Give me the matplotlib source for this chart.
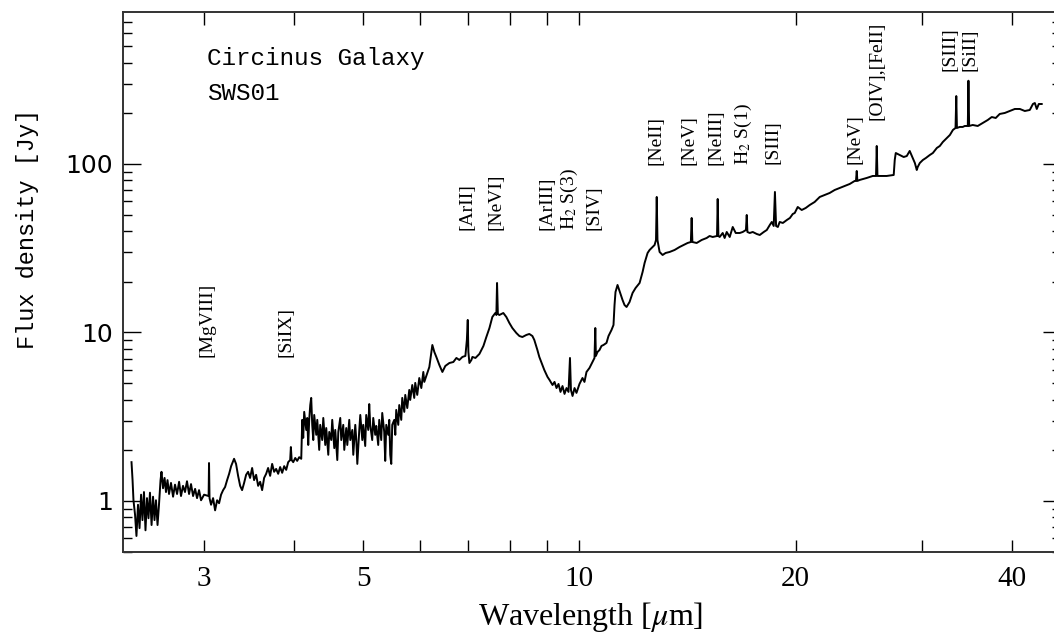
import numpy as np
import matplotlib
matplotlib.use("Agg")
import matplotlib.pyplot as plt
from matplotlib.ticker import LogLocator, NullFormatter, NullLocator

plt.rcParams["mathtext.fontset"] = "stix"

# ISO-SWS spectrum (wavelength in micron, flux in Jy)
wave_1 = [2.379, 2.387, 2.394, 2.406, 2.417, 2.429, 2.441, 2.453, 2.464, 2.476,
          2.488, 2.500, 2.512, 2.524, 2.537, 2.549, 2.561, 2.573, 2.586, 2.598,
          2.611, 2.619, 2.632, 2.645, 2.657, 2.670, 2.683, 2.700, 2.718, 2.735,
          2.753, 2.771, 2.788, 2.806, 2.824, 2.842, 2.861, 2.879, 2.898, 2.917,
          2.935, 2.954, 2.973, 3.002]
flux_1 = [1.70, 1.33, 1.01, 0.83, 0.62, 0.95, 0.69, 1.09, 0.77, 1.13,
          0.67, 1.04, 0.79, 1.12, 0.72, 1.06, 0.77, 1.01, 0.72, 0.95,
          1.33, 1.49, 1.19, 1.37, 1.13, 1.33, 1.10, 1.28, 1.06, 1.25,
          1.10, 1.30, 1.07, 1.23, 1.13, 1.31, 1.10, 1.26, 1.07, 1.18,
          1.04, 1.16, 1.01, 1.09]

wave_2 = [3.046, 3.050, 3.055, 3.070, 3.090, 3.110, 3.130, 3.150, 3.170, 3.191,
          3.211, 3.232, 3.253, 3.274, 3.305, 3.326, 3.348, 3.370, 3.391, 3.413,
          3.435, 3.457, 3.479, 3.502, 3.524, 3.547, 3.570, 3.593, 3.616, 3.639,
          3.663, 3.686, 3.710, 3.734, 3.758, 3.782, 3.807, 3.831, 3.856, 3.881,
          3.906, 3.931, 3.956, 3.965, 3.975, 3.995, 4.021, 4.046, 4.072, 4.099]
flux_2 = [1.07, 1.68, 1.04, 0.95, 1.04, 0.88, 1.01, 0.97, 1.09, 1.16,
          1.21, 1.33, 1.45, 1.61, 1.78, 1.66, 1.41, 1.23, 1.16, 1.28,
          1.43, 1.49, 1.37, 1.57, 1.33, 1.43, 1.23, 1.30, 1.16, 1.37,
          1.45, 1.57, 1.41, 1.66, 1.49, 1.55, 1.45, 1.59, 1.47, 1.61,
          1.53, 1.70, 1.75, 2.09, 1.75, 1.70, 1.80, 1.73, 1.82, 1.78]

wave_3 = [4.112, 4.125, 4.138, 4.165, 4.178, 4.192, 4.205, 4.219, 4.232, 4.246,
          4.260, 4.273, 4.301, 4.315, 4.342, 4.356, 4.384, 4.399, 4.427, 4.441,
          4.470, 4.484, 4.513, 4.527, 4.557, 4.571, 4.601, 4.616, 4.645, 4.660,
          4.690, 4.705, 4.735, 4.751, 4.781, 4.797, 4.828, 4.843, 4.874, 4.890,
          4.906, 4.937, 4.953, 4.985, 5.000, 5.032, 5.048, 5.081, 5.097, 5.113,
          5.146, 5.163, 5.196, 5.213, 5.246, 5.263, 5.297, 5.314, 5.348, 5.365,
          5.383, 5.417, 5.435, 5.452, 5.470, 5.487, 5.523, 5.541, 5.558, 5.594,
          5.612, 5.648, 5.666, 5.703, 5.721, 5.758, 5.795, 5.813, 5.851, 5.888,
          5.907, 5.945, 5.984, 6.023, 6.062, 6.081, 6.121, 6.180]
flux_3 = [3.03, 2.37, 3.38, 2.64, 3.11, 2.15, 3.03, 3.71, 4.09, 2.83,
          2.30, 3.24, 2.47, 3.03, 2.01, 2.83, 2.30, 3.11, 2.15, 2.71,
          1.88, 2.57, 2.30, 3.03, 2.06, 2.64, 1.75, 2.57, 3.11, 2.30,
          2.83, 2.01, 2.71, 2.15, 3.03, 2.30, 2.64, 1.88, 2.83, 2.30,
          1.66, 2.64, 3.24, 2.30, 2.83, 2.12, 3.24, 2.64, 3.76, 2.83,
          2.30, 3.11, 2.47, 2.79, 2.15, 3.03, 2.30, 3.33, 2.57, 1.73,
          2.83, 2.47, 3.03, 1.88, 1.66, 2.83, 3.03, 2.47, 3.47, 2.83,
          3.71, 3.03, 4.09, 3.38, 4.26, 3.56, 4.56, 3.98, 4.88, 4.09,
          5.02, 4.26, 5.37, 4.68, 5.83, 5.09, 5.52, 6.24]

wave_4 = [6.220, 6.240, 6.280, 6.320, 6.382, 6.444, 6.505, 6.590, 6.674, 6.740,
          6.804, 6.871, 6.937, 6.970, 6.990, 7.004, 7.027, 7.072, 7.095, 7.164,
          7.256, 7.350, 7.419, 7.493, 7.563, 7.636, 7.661, 7.678, 7.698, 7.735,
          7.834, 7.910, 7.987, 8.064, 8.168, 8.248, 8.327, 8.435, 8.515, 8.599,
          8.652, 8.738, 8.792, 8.879, 8.934, 9.026, 9.084, 9.172, 9.231, 9.290,
          9.350, 9.410, 9.470, 9.532, 9.593, 9.654, 9.700, 9.730, 9.780, 9.843,
          9.904]
flux_4 = [7.66, 8.43, 7.66, 7.16, 6.41, 5.83, 6.33, 6.59, 6.68, 7.06,
          6.87, 7.16, 7.26, 9.03, 11.87, 7.66, 6.59, 6.87, 7.16, 7.06,
          7.46, 8.32, 9.40, 10.63, 12.36, 13.05, 12.70, 19.67, 12.88, 12.70,
          13.05, 12.36, 11.39, 10.63, 9.93, 9.53, 9.40, 9.67, 9.80, 9.53,
          9.03, 7.87, 7.16, 6.41, 5.99, 5.45, 5.23, 4.88, 5.09, 4.68,
          4.95, 4.44, 4.81, 4.32, 4.68, 4.44, 7.06, 4.56, 4.20, 4.68,
          4.38]

wave_5 = [10.00, 10.097, 10.161, 10.227, 10.326, 10.426, 10.493, 10.52, 10.54, 10.594,
          10.663, 10.731, 10.800, 10.904, 10.975, 11.081, 11.152, 11.189, 11.224, 11.297,
          11.370, 11.480, 11.553, 11.629, 11.741, 11.855, 11.970, 12.125, 12.242, 12.321,
          12.440, 12.520, 12.601, 12.722, 12.78, 12.81, 12.84, 12.928, 13.053, 13.179,
          13.349, 13.564, 13.784, 13.962, 14.143, 14.29, 14.327, 14.36, 14.559, 14.794,
          15.034, 15.176, 15.326, 15.54, 15.574, 15.61, 15.674, 15.826, 15.925, 16.031,
          16.186, 16.343, 16.501, 16.714, 16.876, 17.05, 17.094, 17.13, 17.259, 17.427,
          17.652, 17.822, 18.053, 18.228, 18.405, 18.523, 18.636, 18.71, 18.78, 18.886,
          18.998, 19.191, 19.44, 19.631, 19.81, 19.936]
flux_5 = [4.95, 5.37, 5.09, 5.83, 6.16, 6.68, 7.06, 10.63, 7.26, 7.66,
          7.87, 8.32, 8.43, 8.67, 9.53, 10.35, 11.08, 14.56, 17.39, 19.14,
          17.63, 15.59, 14.56, 14.17, 15.17, 17.16, 18.37, 19.67, 22.86, 25.85,
          29.64, 30.88, 31.73, 33.06, 35.40, 63.72, 35.40, 30.05, 28.84, 29.64,
          30.05, 30.88, 32.17, 33.06, 33.98, 34.44, 47.82, 34.44, 33.98, 35.40,
          36.38, 37.38, 36.88, 37.38, 61.99, 37.38, 36.88, 38.95, 36.38, 39.49,
          36.88, 42.28, 38.95, 38.95, 39.49, 40.58, 49.82, 39.49, 38.95, 39.49,
          38.42, 37.90, 39.49, 40.58, 43.45, 45.28, 42.86, 68.23, 42.86, 42.28,
          45.28, 44.66, 46.53, 47.82, 50.5, 51.2]

wave_6 = [20.129, 20.388, 20.65, 20.92, 21.25, 21.60, 21.94, 22.30, 22.66, 23.03,
          23.40, 23.78, 24.16, 24.26, 24.32, 24.37, 24.55, 25.11, 25.60, 25.87,
          25.93, 25.99, 26.18, 26.77, 27.38, 27.47, 27.56, 27.91, 28.27, 28.55,
          28.82, 29.10, 29.30, 29.48, 29.57, 29.77, 30.06, 30.35, 30.74, 31.04,
          31.44, 31.74, 32.05, 32.47, 32.78, 33.10, 33.38, 33.46, 33.53, 33.84,
          34.16, 34.38, 34.72, 34.79, 34.87, 35.27, 35.84, 36.42, 37.01, 37.49,
          37.97, 38.46, 39.09, 39.72, 40.37, 41.02, 41.68, 42.35, 42.78, 43.04,
          43.31, 43.59, 44.0]
flux_6 = [55.57, 53.33, 54.81, 57.11, 59.5, 63.72, 65.46, 67.30, 70.10, 72.07,
          74.05, 76.11, 79.3, 79.3, 90.88, 79.3, 80.4, 82.61, 84.90, 84.90,
          127.9, 84.90, 84.90, 84.90, 86.07, 105.6, 116.2, 113.1, 110.0, 111.5,
          119.5, 108.5, 101.4, 92.13, 95.98, 101.4, 105.6, 108.5, 113.1, 116.2,
          124.5, 127.9, 135.1, 142.7, 148.6, 159.2, 163.6, 253.0, 163.6, 165.9,
          165.9, 168.1, 168.1, 312.0, 168.1, 170.4, 168.1, 175.2, 182.4, 190.0,
          187.5, 198.1, 200.8, 206.3, 212.1, 212.1, 206.3, 209.2, 227.0, 230.1,
          212.1, 227.0, 227.0]

# line identifications (label, wavelength, flux at the foot of the label)
line_names = ["[MgVIII]", "[SiIX]", "[ArII]", "[NeVI]", "[ArIII]", "H$_2$ S(3)",
              "[SIV]", "[NeII]", "[NeV]", "[NeIII]", "H$_2$ S(1)", "[SIII]",
              "[NeV]", "[OIV],[FeII]", "[SIII]", "[SiII]"]
line_wave = [3.03, 3.90, 6.98, 7.66, 9.0, 9.68, 10.49, 12.8, 14.2, 15.5,
             16.9, 18.6, 24.2, 25.95, 32.8, 34.95]
line_foot = [7.2, 7.2, 40.6, 40.6, 40.6, 40.6, 40.6, 98.6, 98.6, 98.6,
             98.6, 100, 100, 182, 356, 356]

xticks = [3, 4, 5, 6, 7, 8, 9, 10, 20, 30, 40]
xtick_labels = ["3", "", "5", "", "", "", "", "10", "20", "", "40"]
yticks = [1, 10, 100]
ytick_labels = ["1", "10", "100"]

wave = np.concatenate([wave_1, wave_2, wave_3, wave_4, wave_5, wave_6])
flux = np.concatenate([flux_1, flux_2, flux_3, flux_4, flux_5, flux_6])

fig = plt.figure(figsize=(10.54, 6.35), dpi=100)
ax = fig.add_axes([0.1167, 0.1307, 0.8899, 0.8504])

ax.plot(wave, flux, color="black", lw=1.4)

ax.set_xscale("log")
ax.set_yscale("log")
ax.set_xlim(2.315, 46.8)
ax.set_ylim(0.498, 798)

ax.xaxis.set_minor_locator(NullLocator())
ax.set_xticks(xticks, xtick_labels)
ax.set_yticks(yticks, ytick_labels)
ax.yaxis.set_minor_locator(LogLocator(base=10, subs=np.arange(2, 10)))
ax.yaxis.set_minor_formatter(NullFormatter())

ax.tick_params(axis="x", which="major", direction="in", length=9, width=1,
               top=True, bottom=True, pad=10, labelsize=21)
ax.tick_params(axis="y", which="major", direction="in", length=13, width=1,
               left=True, right=True, pad=7, labelsize=18)
ax.tick_params(axis="y", which="minor", direction="in", length=6.5, width=1,
               left=True, right=True)
for lab in ax.get_xticklabels():
    lab.set_fontfamily("Liberation Serif")
for lab in ax.get_yticklabels():
    lab.set_fontfamily("DejaVu Sans")

for sp in ax.spines.values():
    sp.set_linewidth(1.4)
    sp.set_color("#333333")

ax.text(0.499, -0.120, r"Wavelength [$\mu$m]", transform=ax.transAxes,
        ha="center", va="center", fontsize=23, family="Liberation Serif")
ax.text(-0.102, 0.598, "Flux density [Jy]", transform=ax.transAxes, rotation=90,
        ha="center", va="center", fontsize=17, family="Liberation Mono")

ax.text(0.0896, 0.902, "Circinus Galaxy", transform=ax.transAxes,
        ha="left", va="baseline", fontsize=17.5, family="Liberation Mono")
ax.text(0.0896, 0.837, "SWS01", transform=ax.transAxes,
        ha="left", va="baseline", fontsize=17.5, family="Liberation Mono")

for name, lw, lf in zip(line_names, line_wave, line_foot):
    ax.text(lw, lf, name, rotation=90, ha="center", va="bottom",
            fontsize=14, family="Liberation Serif")

fig.savefig("out.png", dpi=100)
